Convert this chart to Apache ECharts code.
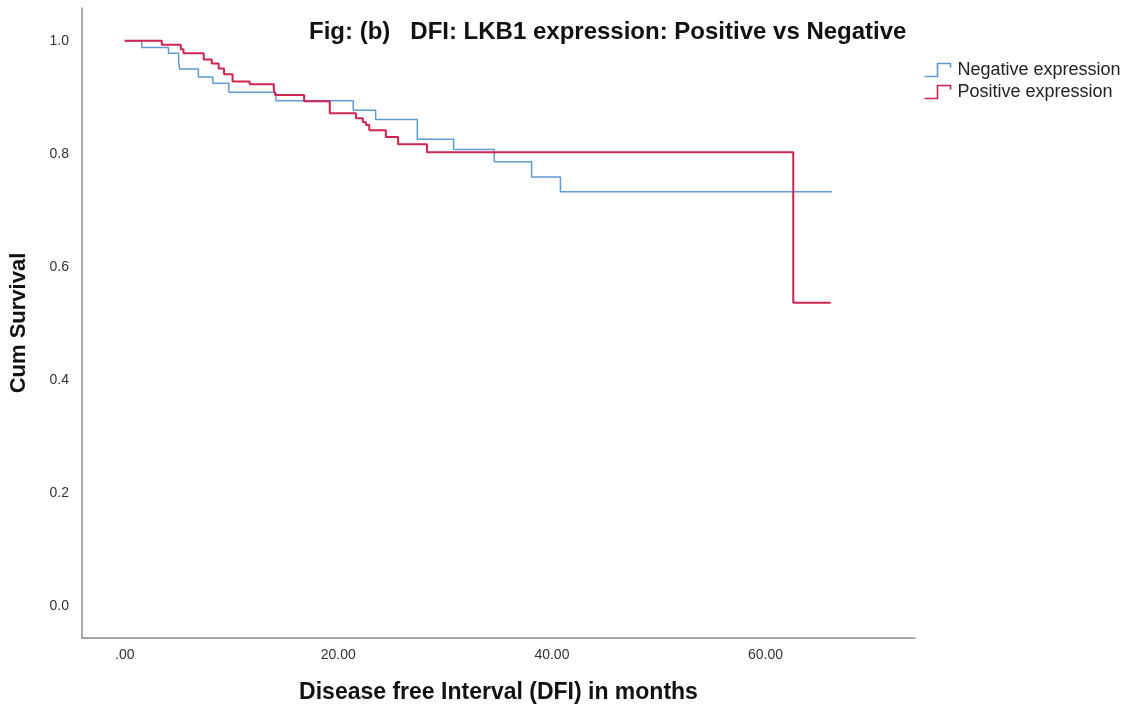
<!DOCTYPE html>
<html>
<head>
<meta charset="utf-8">
<title>DFI: LKB1 expression</title>
<script src="https://cdn.jsdelivr.net/npm/echarts@6/dist/echarts.min.js"></script>
<style>
html, body { margin: 0; padding: 0; background: #fff; }
#main { width: 1132px; height: 715px; }
</style>
</head>
<body>
<div id="main"></div>
<script>
// Kaplan-Meier steps: month of each drop and cumulative survival after it
var negTime = [0, 1.6, 4.1, 5.05, 5.15, 6.9, 8.25, 9.75, 14.15, 21.4, 23.5, 27.4, 30.8, 34.6, 38.1, 40.8, 66.2];
var negSurv = [1.0, 0.988, 0.978, 0.962, 0.950, 0.936, 0.925, 0.909, 0.894, 0.877, 0.861, 0.826, 0.808, 0.786, 0.759, 0.733, 0.733];

var posTime = [0, 3.47, 5.25, 5.5, 7.4, 8.15, 8.8, 9.3, 10.1, 11.7, 13.96, 14.1, 16.8, 19.2, 21.65, 22.3, 22.6, 22.9, 24.45, 25.6, 28.3, 62.6, 66.1];
var posSurv = [1.0, 0.993, 0.985, 0.978, 0.967, 0.960, 0.951, 0.941, 0.928, 0.923, 0.913, 0.904, 0.893, 0.872, 0.863, 0.856, 0.851, 0.842, 0.830, 0.817, 0.803, 0.537, 0.537];

var xTicks = [0, 20, 40, 60];
var yTicks = [0, 0.2, 0.4, 0.6, 0.8, 1.0];

var seriesNames = ['Negative expression', 'Positive expression'];
var seriesColors = ['#6199d4', '#cf2350'];

function pairs(t, s) {
  return t.map(function (v, i) { return [v, s[i]]; });
}

// step icon like the SPSS legend
var stepIcon = 'path://M0,14 L13,14 L13,1 L26,1 L26,5';

var chart = echarts.init(document.getElementById('main'));

var option = {
  backgroundColor: '#fff',
  animation: false,
  textStyle: { fontFamily: 'Liberation Sans, Arial, sans-serif' },
  title: {
    text: 'Fig: (b)   DFI: LKB1 expression: Positive vs Negative',
    left: 304,
    top: 15,
    textStyle: { fontSize: 24, fontWeight: 'bold', color: '#111', fontFamily: 'Liberation Sans, Arial, sans-serif' }
  },
  legend: {
    orient: 'vertical',
    left: 917,
    top: 56,
    itemWidth: 34,
    itemHeight: 13,
    itemGap: 4,
    textStyle: { fontSize: 18, color: '#222', padding: [0, 0, 0, -2] },
    data: seriesNames.map(function (n, i) {
      return {
        name: n,
        icon: stepIcon,
        itemStyle: { color: 'none', borderColor: seriesColors[i], borderWidth: 1.6 }
      };
    })
  },
  grid: { left: 82, right: 217, top: 8, bottom: 77 },
  xAxis: {
    type: 'value',
    min: -4,
    max: 74,
    interval: 2,
    name: 'Disease free Interval (DFI) in months',
    nameLocation: 'middle',
    nameGap: 43,
    nameTextStyle: { fontSize: 23, fontWeight: 'bold', color: '#111' },
    axisLine: { show: true, onZero: false, lineStyle: { color: '#8c8c8c', width: 1.5 } },
    axisTick: { show: false },
    splitLine: { show: false },
    axisLabel: {
      fontSize: 14,
      color: '#333',
      margin: 10,
      formatter: function (v) {
        if (xTicks.indexOf(v) < 0) return '';
        return v === 0 ? '.00' : v.toFixed(2);
      }
    }
  },
  yAxis: {
    type: 'value',
    min: -0.056,
    max: 1.058,
    interval: 0.004,
    name: 'Cum Survival',
    nameLocation: 'middle',
    nameGap: 52,
    nameTextStyle: { fontSize: 22, fontWeight: 'bold', color: '#111' },
    axisLine: { show: true, onZero: false, lineStyle: { color: '#8c8c8c', width: 1.5 } },
    axisTick: { show: false },
    splitLine: { show: false },
    axisLabel: {
      fontSize: 14,
      color: '#333',
      margin: 13,
      formatter: function (v) {
        for (var i = 0; i < yTicks.length; i++) {
          if (Math.abs(v - yTicks[i]) < 1e-6) return yTicks[i].toFixed(1);
        }
        return '';
      }
    }
  },
  series: [
    {
      name: seriesNames[0],
      type: 'line',
      step: 'end',
      symbol: 'none',
      lineStyle: { color: seriesColors[0], width: 1.5 },
      itemStyle: { color: seriesColors[0] },
      data: pairs(negTime, negSurv)
    },
    {
      name: seriesNames[1],
      type: 'line',
      step: 'end',
      symbol: 'none',
      lineStyle: { color: seriesColors[1], width: 2 },
      itemStyle: { color: seriesColors[1] },
      data: pairs(posTime, posSurv)
    }
  ]
};

chart.setOption(option);
</script>
</body>
</html>
